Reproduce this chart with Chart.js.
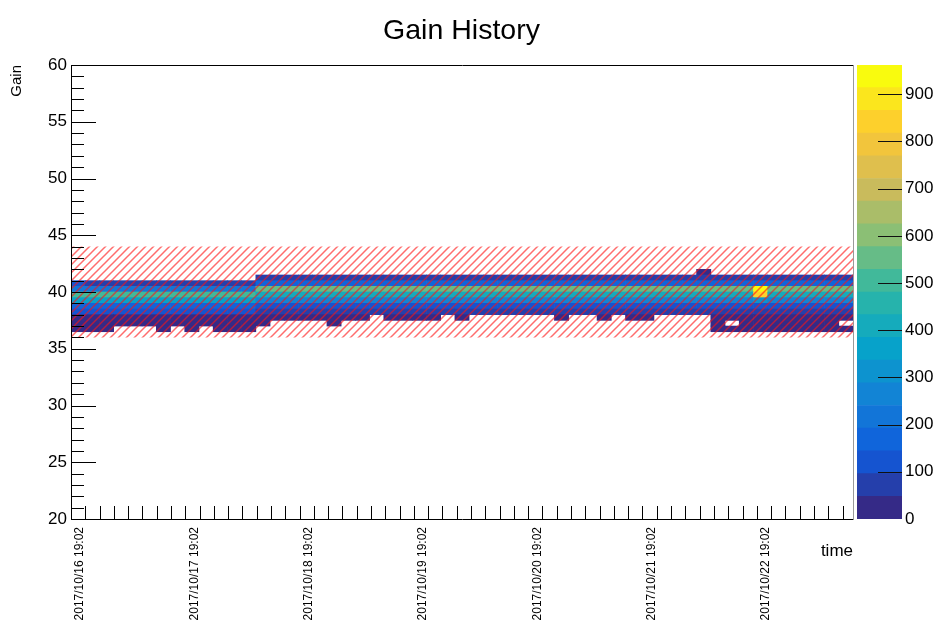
<!DOCTYPE html>
<html>
<head>
<meta charset="utf-8">
<script src="https://cdn.jsdelivr.net/npm/chart.js@4.4.0/dist/chart.umd.min.js"></script>
<style>
  html, body { margin: 0; padding: 0; background: #fff; }
  #wrap { position: relative; width: 941px; height: 621px; overflow: hidden; background: #fff; }
  #main { position: absolute; left: 0; top: 0; }
  #zbar { position: absolute; left: 850px; top: 0; }
</style>
</head>
<body>
<div id="wrap">
  <canvas id="main" width="923" height="621"></canvas>
  <canvas id="zbar" width="91" height="621"></canvas>
</div>
<script>
// ---- time axis: hours since 2017/10/16 19:02, one bin per column ----
const dayLabels = [
  '2017/10/16 19:02', '2017/10/17 19:02', '2017/10/18 19:02', '2017/10/19 19:02',
  '2017/10/20 19:02', '2017/10/21 19:02', '2017/10/22 19:02'
];
const timeSpanHours = 164.2;
const timeBins = 55;

// ---- gain axis ----
const gainMin = 20;
const gainMax = 60;
const gainBinWidth = 0.5;

// reference band (hatched)
const bandLow = 36;
const bandHigh = 44;

// lower edge of each filled gain row
const gainRowLows = [36.5, 37, 37.5, 38, 38.5, 39, 39.5, 40, 40.5, 41, 41.5];

// entries per time bin, one array per gain row (55 time bins each)
const gain36_5 = [
  8, 6, 7, 0, 0, 0, 5, 0, 6, 0, 7,
  6, 8, 0, 0, 0, 0, 0, 0, 0, 0, 0,
  0, 0, 0, 0, 0, 0, 0, 0, 0, 0, 0,
  0, 0, 0, 0, 0, 0, 0, 0, 0, 0, 0,
  0, 7, 5, 6, 8, 6, 7, 5, 6, 7, 6
];
const gain37_0 = [
  20, 17, 22, 19, 15, 18, 21, 16, 19, 23, 17,
  18, 20, 9, 0, 0, 0, 0, 7, 0, 0, 0,
  0, 0, 0, 0, 0, 0, 0, 0, 0, 0, 0,
  0, 0, 0, 0, 0, 0, 0, 0, 0, 0, 0,
  0, 11, 0, 9, 12, 8, 10, 13, 9, 11, 0
];
const gain37_5 = [
  38, 34, 41, 36, 33, 39, 35, 42, 37, 32, 40,
  36, 39, 24, 21, 18, 26, 22, 19, 25, 23, 0,
  20, 17, 24, 22, 0, 16, 0, 0, 0, 0, 0,
  0, 14, 0, 0, 12, 0, 15, 13, 0, 0, 0,
  0, 22, 19, 25, 21, 18, 24, 20, 23, 17, 26
];
const gain38_0 = [
  108, 102, 112, 99, 106, 115, 101, 104, 110, 98, 107,
  103, 111, 62, 57, 66, 60, 64, 55, 68, 59, 63,
  65, 58, 61, 67, 56, 63, 59, 66, 54, 62, 60,
  64, 57, 61, 66, 59, 63, 55, 68, 60, 58, 62,
  61, 66, 58, 63, 72, 60, 65, 57, 62, 59, 64
];
const gain38_5 = [
  172, 166, 178, 169, 175, 161, 170, 168, 180, 164, 173,
  167, 176, 118, 112, 124, 109, 121, 115, 127, 110, 119,
  123, 114, 120, 126, 111, 117, 108, 125, 113, 122, 116,
  120, 115, 109, 124, 118, 112, 127, 119, 114, 121, 110,
  117, 125, 113, 120, 140, 116, 122, 108, 119, 114, 123
];
const gain39_0 = [
  362, 355, 368, 359, 364, 351, 366, 357, 370, 360, 353,
  365, 358, 262, 255, 268, 259, 264, 251, 270, 258, 261,
  266, 254, 260, 269, 257, 263, 256, 267, 253, 262, 259,
  264, 258, 251, 266, 260, 255, 269, 261, 257, 263, 254,
  260, 267, 256, 262, 330, 259, 265, 253, 261, 258, 264
];
const gain39_5 = [
  505, 498, 510, 496, 502, 507, 493, 500, 511, 497, 504,
  499, 506, 412, 405, 418, 409, 414, 402, 420, 408, 411,
  416, 404, 410, 419, 407, 413, 406, 417, 403, 412, 409,
  414, 408, 401, 416, 410, 405, 419, 411, 407, 413, 404,
  410, 417, 406, 412, 830, 409, 415, 403, 411, 408, 414
];
const gain40_0 = [
  230, 224, 218, 227, 221, 232, 219, 226, 222, 229, 217,
  225, 220, 541, 548, 536, 552, 544, 539, 547, 550, 538,
  545, 553, 540, 537, 549, 546, 542, 551, 535, 544, 548,
  540, 546, 552, 538, 543, 549, 541, 537, 550, 545, 539,
  547, 542, 551, 540, 962, 545, 538, 549, 543, 546, 536
];
const gain40_5 = [
  140, 84, 78, 81, 76, 88, 79, 83, 74, 86, 80,
  77, 82, 168, 172, 165, 178, 170, 163, 175, 169, 174,
  166, 171, 177, 162, 170, 174, 168, 165, 179, 171, 167,
  173, 169, 164, 176, 170, 167, 172, 178, 165, 171, 169,
  175, 168, 163, 172, 185, 170, 166, 174, 169, 171, 160
];
const gain41_0 = [
  0, 0, 0, 0, 0, 0, 0, 0, 0, 0, 0,
  0, 0, 62, 66, 58, 64, 70, 61, 57, 68, 63,
  60, 66, 72, 59, 64, 61, 69, 58, 63, 67, 60,
  65, 62, 58, 70, 64, 61, 66, 59, 63, 68, 62,
  74, 60, 65, 57, 71, 63, 59, 66, 62, 60, 64
];
const gain41_5 = [
  0, 0, 0, 0, 0, 0, 0, 0, 0, 0, 0,
  0, 0, 0, 0, 0, 0, 0, 0, 0, 0, 0,
  0, 0, 0, 0, 0, 0, 0, 0, 0, 0, 0,
  0, 0, 0, 0, 0, 0, 0, 0, 0, 0, 0,
  18, 0, 0, 0, 0, 0, 0, 0, 0, 0, 0
];
const gainRows = [gain36_5, gain37_0, gain37_5, gain38_0, gain38_5, gain39_0,
                  gain39_5, gain40_0, gain40_5, gain41_0, gain41_5];

// colour scale ticks
const zTickStep = 100;
const nContours = 20;

// ---- ROOT "bird" palette ----
const birdStops = [0.0, 0.125, 0.25, 0.375, 0.5, 0.625, 0.75, 0.875, 1.0];
const birdR = [0.2082, 0.0592, 0.0780, 0.0232, 0.1802, 0.5301, 0.8186, 0.9956, 0.9764];
const birdG = [0.1664, 0.3599, 0.5041, 0.6419, 0.7178, 0.7492, 0.7328, 0.7862, 0.9832];
const birdB = [0.5293, 0.8684, 0.8385, 0.7914, 0.6425, 0.4662, 0.3499, 0.1968, 0.0539];

function bird(t) {
  let i = 0;
  while (i < birdStops.length - 2 && t > birdStops[i + 1]) i++;
  const f = (t - birdStops[i]) / (birdStops[i + 1] - birdStops[i]);
  const mix = arr => Math.round(255 * (arr[i] + f * (arr[i + 1] - arr[i])));
  return `rgb(${mix(birdR)},${mix(birdG)},${mix(birdB)})`;
}

const zMax = Math.max(...gainRows.flat());
const zStep = zMax / nContours;
const contourColors = Array.from({ length: nContours }, (_, i) => bird(i / (nContours - 1)));
function cellColor(v) {
  return contourColors[Math.min(nContours - 1, Math.floor(v / zStep))];
}

const binHours = timeSpanHours / timeBins;

Chart.defaults.font.family = "'Liberation Sans', Arial, Helvetica, sans-serif";
Chart.defaults.color = '#000';

// diagonal hatching used for the reference band
const mainCanvas = document.getElementById('main');
function makeHatch(ctx) {
  const s = 8;
  const tile = document.createElement('canvas');
  tile.width = s; tile.height = s;
  const g = tile.getContext('2d');
  g.strokeStyle = 'rgba(255,20,20,0.62)';
  g.lineWidth = 1.5;
  g.beginPath();
  g.moveTo(-1, s + 1); g.lineTo(s + 1, -1);
  g.moveTo(-1, 1); g.lineTo(1, -1);
  g.moveTo(s - 1, s + 1); g.lineTo(s + 1, s - 1);
  g.stroke();
  return ctx.createPattern(tile, 'repeat');
}
const hatch = makeHatch(mainCanvas.getContext('2d'));

// ROOT-like frame with ticks pointing into the plot
const insideTicks = {
  id: 'insideTicks',
  afterDraw(chart) {
    const { ctx, chartArea: a, scales } = chart;
    ctx.save();
    ctx.lineWidth = 1;
    ctx.strokeStyle = '#000';
    ctx.beginPath();
    for (const t of scales.y.ticks) {
      const py = Math.round(scales.y.getPixelForValue(t.value)) + 0.5;
      const len = t.value % 5 === 0 ? 25 : 13;
      ctx.moveTo(a.left, py); ctx.lineTo(a.left + len, py);
    }
    for (const t of scales.x.ticks) {
      const px = Math.round(scales.x.getPixelForValue(t.value)) + 0.5;
      ctx.moveTo(px, a.bottom); ctx.lineTo(px, a.bottom - 13);
    }
    const l = Math.round(a.left) + 0.5, r = Math.round(a.right) + 0.5;
    const t = Math.round(a.top) + 0.5, b = Math.round(a.bottom) + 0.5;
    ctx.moveTo(l, t); ctx.lineTo(r, t);
    ctx.moveTo(l, t); ctx.lineTo(l, b); ctx.lineTo(r, b);
    ctx.stroke();
    ctx.strokeStyle = '#9a9a9a';
    ctx.beginPath(); ctx.moveTo(r, t); ctx.lineTo(r, b); ctx.stroke();
    ctx.restore();
  }
};

const heatDatasets = gainRowLows.map((lo, r) => ({
  type: 'bar',
  label: 'gain ' + lo,
  data: gainRows[r]
    .map((v, c) => (v > 0 ? { x: (c + 0.5) * binHours, y: [lo, lo + gainBinWidth], v } : null))
    .filter(Boolean),
  backgroundColor: ctx => cellColor(ctx.raw ? ctx.raw.v : 0),
  borderWidth: 0,
  order: 1
}));

const bandDataset = {
  type: 'line',
  label: 'band',
  data: [{ x: 0, y: bandHigh }, { x: timeSpanHours, y: bandHigh }],
  fill: { value: bandLow },
  backgroundColor: hatch,
  borderWidth: 0,
  pointRadius: 0,
  order: 0
};

new Chart(mainCanvas, {
  type: 'bar',
  data: { datasets: [...heatDatasets, bandDataset] },
  options: {
    responsive: false,
    animation: false,
    events: [],
    layout: { padding: 0 },
    plugins: {
      legend: { display: false },
      tooltip: { enabled: false },
      title: {
        display: true,
        text: 'Gain History',
        color: '#000',
        font: { size: 28.5, weight: 'normal' },
        padding: { top: 14, bottom: 16.8 }
      }
    },
    datasets: { bar: { grouped: false, barPercentage: 1, categoryPercentage: 1 } },
    scales: {
      x: {
        type: 'linear',
        min: 0,
        max: timeSpanHours,
        offset: false,
        grid: { display: false, drawTicks: false, offset: false },
        border: { display: false },
        ticks: {
          stepSize: 3,
          includeBounds: false,
          autoSkip: false,
          minRotation: 90,
          maxRotation: 90,
          padding: 8,
          labelOffset: 9,
          font: { size: 12 },
          callback: v => (v % 24 === 0 ? dayLabels[v / 24] : '')
        },
        title: { display: true, text: 'time', align: 'end', font: { size: 17 }, padding: { top: 0, bottom: 59 } },
        afterFit: s => { s.height = 102; }
      },
      y: {
        type: 'linear',
        min: gainMin,
        max: gainMax,
        grid: { display: false, drawTicks: false },
        border: { display: false },
        ticks: {
          stepSize: 1,
          autoSkip: false,
          padding: 4,
          font: { size: 17 },
          callback: v => (v % 5 === 0 ? String(v) : '')
        },
        title: { display: true, text: 'Gain', align: 'end', font: { size: 15 }, padding: { top: 8, bottom: 0 } },
        afterFit: s => { s.width = 71; }
      },
      // empty strip on the right that leaves room for the colour scale
      zSpace: {
        type: 'linear',
        position: 'right',
        display: true,
        grid: { display: false, drawTicks: false },
        border: { display: false },
        ticks: { display: false },
        afterFit: s => { s.width = 70; }
      }
    }
  },
  plugins: [insideTicks]
});

// ---- colour scale ----
const zbarTicks = {
  id: 'zbarTicks',
  afterDraw(chart) {
    const { ctx, chartArea: a, scales } = chart;
    ctx.save();
    ctx.strokeStyle = '#111';
    ctx.lineWidth = 1;
    ctx.beginPath();
    for (const t of scales.y.ticks) {
      if (t.value === 0) continue;
      const py = Math.round(scales.y.getPixelForValue(t.value)) + 0.5;
      ctx.moveTo(a.right - 24, py); ctx.lineTo(a.right, py);
    }
    ctx.stroke();
    ctx.restore();
  }
};

new Chart(document.getElementById('zbar'), {
  type: 'bar',
  data: {
    labels: ['z'],
    datasets: contourColors.map((c, i) => ({
      label: 'level ' + i,
      data: [zStep],
      backgroundColor: c,
      borderWidth: 0
    }))
  },
  options: {
    responsive: false,
    animation: false,
    events: [],
    layout: { padding: { left: 7, right: 0, top: 65, bottom: 102 } },
    plugins: { legend: { display: false }, tooltip: { enabled: false } },
    datasets: { bar: { barPercentage: 1, categoryPercentage: 1 } },
    scales: {
      x: { display: false, stacked: true },
      y: {
        stacked: true,
        position: 'right',
        min: 0,
        max: zMax,
        grid: { display: false, drawTicks: false },
        border: { display: false },
        ticks: { stepSize: zTickStep, includeBounds: false, padding: 3, font: { size: 17 } },
        afterFit: s => { s.width = 39; }
      }
    }
  },
  plugins: [zbarTicks]
});
</script>
</body>
</html>
